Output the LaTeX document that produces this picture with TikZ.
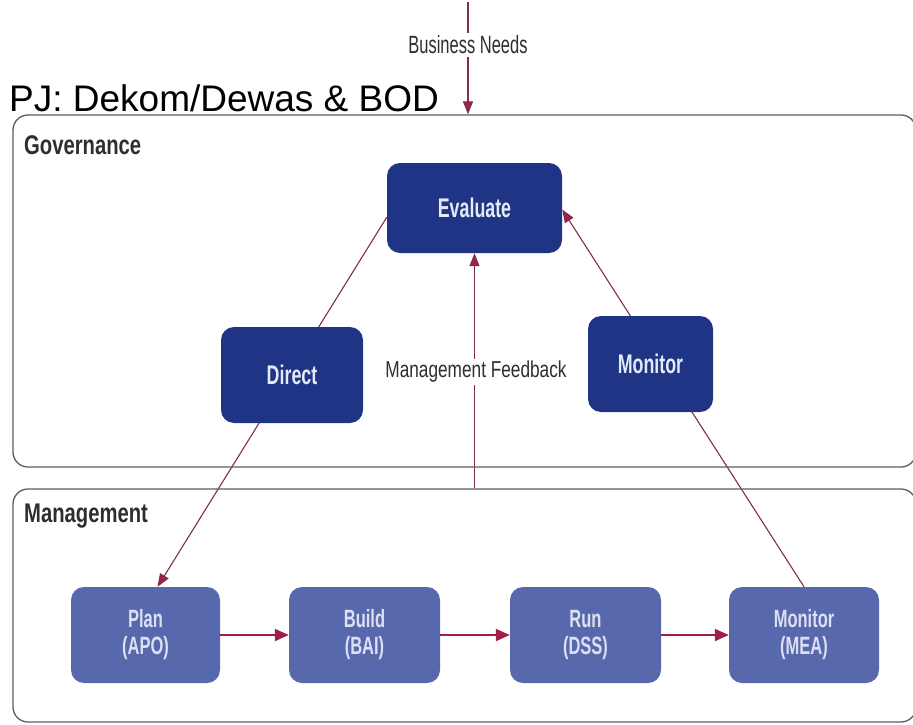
\documentclass[tikz,border=0pt]{standalone}
\usepackage{fontspec}
\setmainfont{Liberation Sans}
\newfontfamily\condsf[FakeStretch=0.66]{Liberation Sans}
\newfontfamily\semicondsf[FakeStretch=0.75]{Liberation Sans}
\usetikzlibrary{arrows.meta,backgrounds}

\definecolor{navy}{HTML}{1F3485}
\definecolor{midblue}{HTML}{5868AD}
\definecolor{crimson}{HTML}{A01E4C}
\definecolor{linkred}{HTML}{7E3046}
\definecolor{framegray}{HTML}{5E5E5E}
\definecolor{labelgray}{HTML}{2E2E2E}
\definecolor{navytext}{HTML}{E4EAF8}
\definecolor{midtext}{HTML}{DCE0F2}

\tikzset{
  container/.style={draw=framegray, line width=1.3pt, rounded corners=15pt,
    inner sep=0pt},
  section/.style={font=\semicondsf\bfseries\fontsize{27}{30}\selectfont,
    text=labelgray, anchor=west, inner sep=0pt},
  govbox/.style={fill=navy, rounded corners=13pt, inner sep=0pt,
    text=navytext, font=\condsf\bfseries\fontsize{27}{30}\selectfont},
  mgmtbox/.style={fill=midblue, rounded corners=13pt, inner sep=0pt,
    minimum height=96pt, align=center,
    text=midtext, font=\condsf\bfseries\fontsize{25}{27}\selectfont},
  plainlabel/.style={text=labelgray, inner sep=3pt},
  link/.style={draw=linkred, line width=1.1pt},
  arr/.style={link, -{Triangle[length=13pt, width=10pt, fill=crimson]}},
  flow/.style={draw=crimson, line width=2pt,
    -{Triangle[length=14pt, width=12pt, fill=crimson]}},
}

\begin{document}
\begin{tikzpicture}[x=1pt, y=-1pt]
  \useasboundingbox (0,0) rectangle (913,725);

  % the two layers of the model
  \node[container, minimum width=903pt, minimum height=352pt] (gov) at (464.5,291) {};
  \node[container, minimum width=903pt, minimum height=233pt] (mgmt) at (464.5,605.5) {};
  \node[section] (govlabel) at (24,145) {Governance};
  \node[section] (mgmtlabel) at (24,516) {Management};

  % heading and incoming business needs
  \node[anchor=base west, inner sep=0pt, text=black,
        font=\fontsize{37}{40}\selectfont] (pj) at (9,111) {PJ: Dekom/Dewas \& BOD};
  \coordinate (bntop) at (468,2);
  \node[plainlabel, font=\condsf\fontsize{25}{27}\selectfont] (bn) at (468,45) {Business Needs};

  % governance boxes
  \node[govbox, minimum width=175pt, minimum height=90pt] (eval) at (474.5,208) {Evaluate};
  \node[govbox, minimum width=142pt, minimum height=96pt] (direct) at (292,375) {Direct};
  \node[govbox, minimum width=125pt, minimum height=96pt] (monitor) at (650.5,364) {Monitor};
  \node[plainlabel, fill=white, inner sep=2pt,
        font=\semicondsf\fontsize{23}{25}\selectfont] (fb) at (476,372) {Management Feedback};

  % management boxes
  \node[mgmtbox, minimum width=149pt] (plan) at (145.5,635) {Plan\\(APO)};
  \node[mgmtbox, minimum width=151pt] (build) at (364.5,635) {Build\\(BAI)};
  \node[mgmtbox, minimum width=151pt] (run) at (585.5,635) {Run\\(DSS)};
  \node[mgmtbox, minimum width=150pt] (mea) at (804,635) {Monitor\\(MEA)};

  % connectors
  \begin{scope}[on background layer]
    \draw[link] (bntop) -- (bn.north);
    \draw[arr] (bn.south) -- (bn.south |- gov.north);
    \draw[arr] (eval.186) -- (plan.76);
    \draw[arr] (mea.north) -- (eval.-1);
    \draw[arr] (mgmt.north -| eval.south) -- (eval.south);
  \end{scope}
  \draw[flow] (plan.east) -- (build.west);
  \draw[flow] (build.east) -- (run.west);
  \draw[flow] (run.east) -- (mea.west);
\end{tikzpicture}
\end{document}
